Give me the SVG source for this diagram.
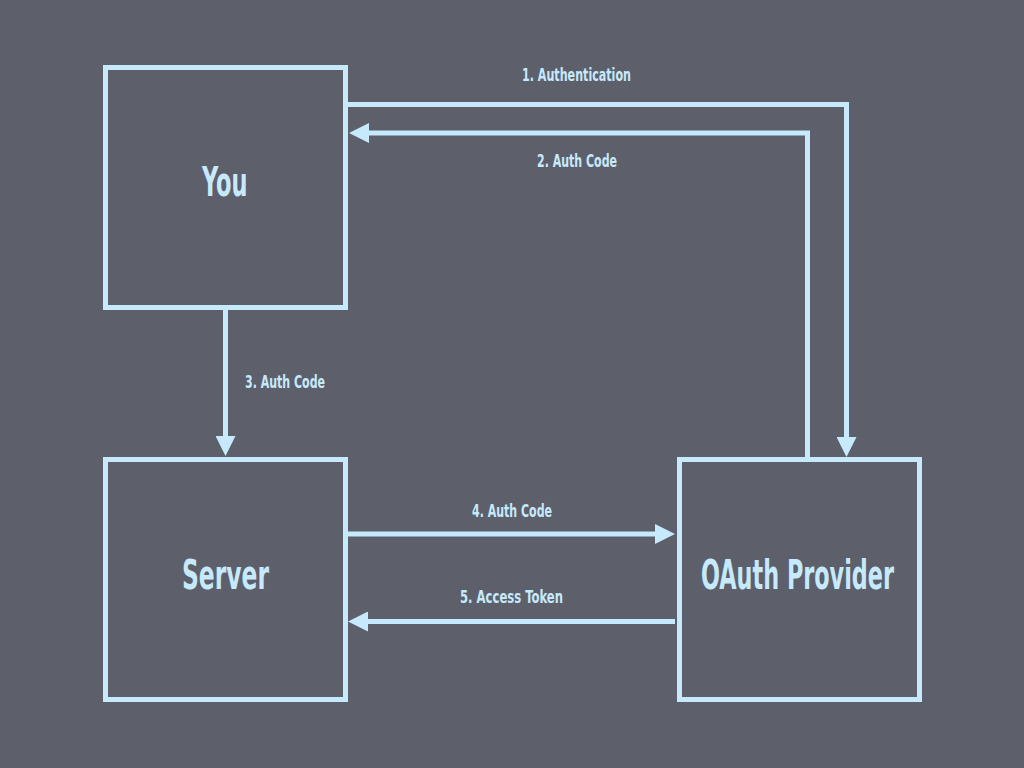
<svg xmlns="http://www.w3.org/2000/svg" width="1024" height="768" viewBox="0 0 1024 768">
<defs>
<style>
.box{fill:none;stroke:#c6eafc;stroke-width:5}
.edge{fill:none;stroke:#c6eafc;stroke-width:5}
.title{fill:#c6eafc;font-family:"DejaVu Sans Condensed","DejaVu Sans","Liberation Sans",sans-serif;font-stretch:condensed;font-weight:bold;font-size:40px}
.lbl{fill:#c6eafc;font-family:"DejaVu Sans Condensed","DejaVu Sans","Liberation Sans",sans-serif;font-stretch:condensed;font-weight:bold;font-size:18px}
</style>
<marker id="ah" markerUnits="userSpaceOnUse" markerWidth="20" markerHeight="20" refX="0" refY="10" orient="auto" viewBox="0 0 20 20">
<path d="M0,0 L20,10 L0,20 Z" fill="#c6eafc"/>
</marker>
</defs>
<rect width="1024" height="768" fill="#5d5f6b"/>
<g id="connectors">
<path class="edge" d="M348,104.5 H846.5 V437" marker-end="url(#ah)"/>
<text class="lbl" x="522" y="81" textLength="109" lengthAdjust="spacingAndGlyphs">1. Authentication</text>
<path class="edge" d="M807.5,457 V133 H369" marker-end="url(#ah)"/>
<text class="lbl" x="537" y="167" textLength="80" lengthAdjust="spacingAndGlyphs">2. Auth Code</text>
<path class="edge" d="M225.5,310 V436" marker-end="url(#ah)"/>
<text class="lbl" x="245" y="387.5" textLength="80" lengthAdjust="spacingAndGlyphs">3. Auth Code</text>
<path class="edge" d="M348,534 H655" marker-end="url(#ah)"/>
<text class="lbl" x="472" y="517" textLength="80" lengthAdjust="spacingAndGlyphs">4. Auth Code</text>
<path class="edge" d="M675,621.5 H368" marker-end="url(#ah)"/>
<text class="lbl" x="460" y="603" textLength="103" lengthAdjust="spacingAndGlyphs">5. Access Token</text>
</g>
<g id="you">
<rect class="box" x="105.5" y="67.5" width="240" height="240"/>
<text class="title" x="202" y="196" textLength="45.5" lengthAdjust="spacingAndGlyphs">You</text>
</g>
<g id="server">
<rect class="box" x="105.5" y="459.5" width="240" height="240"/>
<text class="title" x="182" y="589" textLength="87" lengthAdjust="spacingAndGlyphs">Server</text>
</g>
<g id="oauth">
<rect class="box" x="679.5" y="459.5" width="240" height="240"/>
<text class="title" x="701" y="589" textLength="193" lengthAdjust="spacingAndGlyphs">OAuth Provider</text>
</g>
</svg>
